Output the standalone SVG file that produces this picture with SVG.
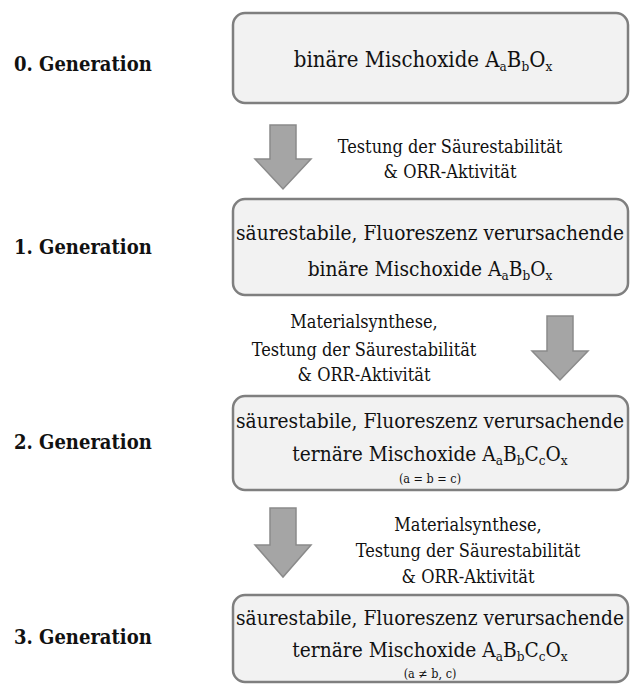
<svg xmlns="http://www.w3.org/2000/svg" width="631" height="684" viewBox="0 0 631 684">
<defs>
<style>
.box{fill:#f2f2f2;stroke:#7f7f7f;stroke-width:2.5}
.arr{fill:#a5a5a5;stroke:#8a8a8a;stroke-width:1.5}
text{font-family:'DejaVu Serif',serif;fill:#111}
.bt{font-size:20.7px;text-anchor:middle}
.bt0{font-size:22px;text-anchor:middle}
.sm{font-size:12.5px;text-anchor:middle}
.lb{font-size:18px;text-anchor:middle}
.gen{font-size:20px;font-weight:bold}
.sub{font-size:13.5px}
</style>
</defs>
<rect width="631" height="684" fill="#fff"/>
<g id="connectors">
<path class="arr" d="M270,125 H296 V159 H311 L283,189 L255,159 H270 Z"/>
<path class="arr" d="M547,316 H573 V351 H588 L560,380 L532,351 H547 Z"/>
<path class="arr" d="M270,508 H296 V545 H311 L283,577 L255,545 H270 Z"/>
<g transform="translate(450,0) scale(0.9,1)">
<text class="lb" x="0" y="153">Testung der Säurestabilität</text>
<text class="lb" x="0" y="178">&amp; ORR-Aktivität</text>
</g>
<g transform="translate(364,0) scale(0.9,1)">
<text class="lb" x="0" y="328">Materialsynthese,</text>
<text class="lb" x="0" y="356">Testung der Säurestabilität</text>
<text class="lb" x="0" y="381">&amp; ORR-Aktivität</text>
</g>
<g transform="translate(468,0) scale(0.9,1)">
<text class="lb" x="0" y="531">Materialsynthese,</text>
<text class="lb" x="0" y="557">Testung der Säurestabilität</text>
<text class="lb" x="0" y="583">&amp; ORR-Aktivität</text>
</g>
</g>
<g id="gen0">
<text class="gen" transform="translate(14,0) scale(0.9,1)" x="0" y="71">0. Generation</text>
<rect class="box" x="233" y="13" width="395" height="90" rx="12"/>
<g transform="translate(423,0) scale(0.9,1)">
<text class="bt0" x="0" y="67">binäre Mischoxide A<tspan class="sub" dy="4">a</tspan><tspan dy="-4">B</tspan><tspan class="sub" dy="4">b</tspan><tspan dy="-4">O</tspan><tspan class="sub" dy="4">x</tspan></text>
</g>
</g>
<g id="gen1">
<text class="gen" transform="translate(14,0) scale(0.9,1)" x="0" y="254">1. Generation</text>
<rect class="box" x="233" y="199" width="395" height="96" rx="12"/>
<g transform="translate(430,0) scale(0.9,1)">
<text class="bt" x="0" y="240">säurestabile, Fluoreszenz verursachende</text>
<text class="bt" x="0" y="276">binäre Mischoxide A<tspan class="sub" dy="4">a</tspan><tspan dy="-4">B</tspan><tspan class="sub" dy="4">b</tspan><tspan dy="-4">O</tspan><tspan class="sub" dy="4">x</tspan></text>
</g>
</g>
<g id="gen2">
<text class="gen" transform="translate(14,0) scale(0.9,1)" x="0" y="449">2. Generation</text>
<rect class="box" x="233" y="396" width="395" height="94" rx="12"/>
<g transform="translate(430,0) scale(0.9,1)">
<text class="bt" x="0" y="428">säurestabile, Fluoreszenz verursachende</text>
<text class="bt" x="0" y="461">ternäre Mischoxide A<tspan class="sub" dy="4">a</tspan><tspan dy="-4">B</tspan><tspan class="sub" dy="4">b</tspan><tspan dy="-4">C</tspan><tspan class="sub" dy="4">c</tspan><tspan dy="-4">O</tspan><tspan class="sub" dy="4">x</tspan></text>
<text class="sm" x="0" y="483">(a = b = c)</text>
</g>
</g>
<g id="gen3">
<text class="gen" transform="translate(14,0) scale(0.9,1)" x="0" y="644">3. Generation</text>
<rect class="box" x="233" y="595" width="395" height="87" rx="12"/>
<g transform="translate(430,0) scale(0.9,1)">
<text class="bt" x="0" y="625">säurestabile, Fluoreszenz verursachende</text>
<text class="bt" x="0" y="657">ternäre Mischoxide A<tspan class="sub" dy="4">a</tspan><tspan dy="-4">B</tspan><tspan class="sub" dy="4">b</tspan><tspan dy="-4">C</tspan><tspan class="sub" dy="4">c</tspan><tspan dy="-4">O</tspan><tspan class="sub" dy="4">x</tspan></text>
<text class="sm" x="0" y="678">(a ≠ b, c)</text>
</g>
</g>
</svg>
